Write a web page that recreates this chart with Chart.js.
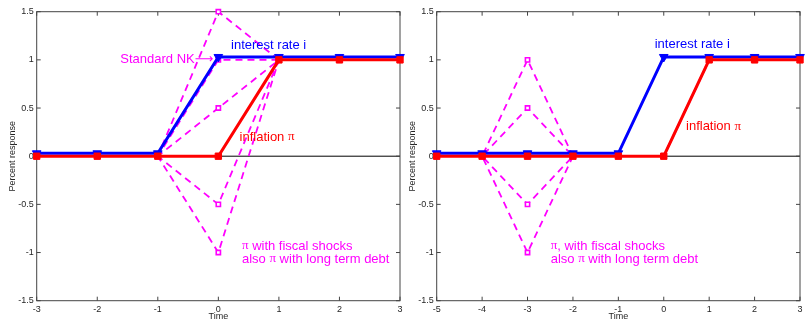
<!DOCTYPE html>
<html>
<head>
<meta charset="utf-8">
<script src="https://cdn.jsdelivr.net/npm/chart.js@4.4.0/dist/chart.umd.min.js"></script>
<style>
  html, body { margin: 0; padding: 0; background: #fff; }
  #wrap { position: relative; width: 806px; height: 321px; overflow: hidden; }
  canvas { position: absolute; top: 0; }
  #left { left: 0; }
  #right { left: 400px; }
</style>
</head>
<body>
<div id="wrap">
  <canvas id="left" width="406" height="321"></canvas>
  <canvas id="right" width="406" height="321"></canvas>
</div>
<script>
// ---- data ----
const yTicks = [-1.5, -1, -0.5, 0, 0.5, 1, 1.5];
const yTickLabels = ['-1.5', '-1', '-0.5', '0', '0.5', '1', '1.5'];

const timeLeft = [-3, -2, -1, 0, 1, 2, 3];
const timeLeftLabels = ['-3', '-2', '-1', '0', '1', '2', '3'];
const rateLeft = [0.03, 0.03, 0.03, 1.03, 1.03, 1.03, 1.03];
const inflationLeft = [0, 0, 0, 0, 1, 1, 1];
const standardNK = [0, 0, 0, 1, 1, 1, 1];
const fiscalLeftA = [0, 0, 0, 1.5, 1, 1, 1];
const fiscalLeftB = [0, 0, 0, 0.5, 1, 1, 1];
const fiscalLeftC = [0, 0, 0, -0.5, 1, 1, 1];
const fiscalLeftD = [0, 0, 0, -1, 1, 1, 1];

const timeRight = [-5, -4, -3, -2, -1, 0, 1, 2, 3];
const timeRightLabels = ['-5', '-4', '-3', '-2', '-1', '0', '1', '2', '3'];
const rateRight = [0.03, 0.03, 0.03, 0.03, 0.03, 1.03, 1.03, 1.03, 1.03];
const inflationRight = [0, 0, 0, 0, 0, 0, 1, 1, 1];
const fiscalRightA = [0, 0, 1, 0, 0, 0, 1, 1, 1];
const fiscalRightB = [0, 0, 0.5, 0, 0, 0, 1, 1, 1];
const fiscalRightC = [0, 0, -0.5, 0, 0, 0, 1, 1, 1];
const fiscalRightD = [0, 0, -1, 0, 0, 0, 1, 1, 1];

const SANS = 'Liberation Sans';
const SERIF = 'Liberation Serif';
const DEJAVU = 'DejaVu Sans';
const BLUE = '#0000ff';
const RED = '#ff0000';
const MAGENTA = '#ff00ff';
const AXIS = '#262626';

const pts = (xs, ys) => xs.map((x, i) => ({ x: x, y: ys[i] }));

// frame, inward ticks and zero line, drawn under the data
const framePlugin = {
  id: 'frame',
  beforeDatasetsDraw(chart) {
    const { ctx, chartArea: a, scales: { x, y } } = chart;
    ctx.save();
    const y0 = y.getPixelForValue(0);
    ctx.strokeStyle = '#000';
    ctx.lineWidth = 1;
    ctx.beginPath();
    ctx.moveTo(a.left, y0);
    ctx.lineTo(a.right, y0);
    ctx.stroke();

    ctx.strokeStyle = '#444';
    ctx.strokeRect(a.left, a.top, a.right - a.left, a.bottom - a.top);
    ctx.beginPath();
    x.ticks.forEach(t => {
      const px = x.getPixelForValue(t.value);
      ctx.moveTo(px, a.bottom); ctx.lineTo(px, a.bottom - 4);
      ctx.moveTo(px, a.top); ctx.lineTo(px, a.top + 4);
    });
    y.ticks.forEach(t => {
      const py = y.getPixelForValue(t.value);
      ctx.moveTo(a.left, py); ctx.lineTo(a.left + 4, py);
      ctx.moveTo(a.right, py); ctx.lineTo(a.right - 4, py);
    });
    ctx.stroke();
    ctx.restore();
  }
};

// text notes placed in data coordinates, mixing sans text with a serif pi
const notesPlugin = {
  id: 'notes',
  afterDatasetsDraw(chart, args, opts) {
    const { ctx, scales: { x, y } } = chart;
    ctx.save();
    ctx.textBaseline = 'middle';
    ctx.textAlign = 'left';
    (opts.items || []).forEach(n => {
      let px = x.getPixelForValue(n.x);
      const py = y.getPixelForValue(n.y);
      ctx.fillStyle = n.color;
      n.parts.forEach(([txt, fam]) => {
        ctx.font = '13px "' + fam + '"';
        ctx.fillText(txt, px, py);
        px += ctx.measureText(txt).width;
      });
    });
    ctx.restore();
  }
};

function fiscalSet(xs, ys) {
  return {
    data: pts(xs, ys),
    borderColor: MAGENTA,
    borderWidth: 1.8,
    borderDash: [7, 5],
    pointStyle: 'rect',
    pointRadius: 3,
    pointBorderWidth: 1.6,
    pointBorderColor: MAGENTA,
    pointBackgroundColor: '#ffffff',
    tension: 0,
    clip: false
  };
}

function makeChart(id, time, timeLabels, rate, inflation, fiscals, notes, padRight) {
  const datasets = [
    {
      data: pts(time, inflation),
      borderColor: RED,
      borderWidth: 3,
      pointStyle: 'rect',
      pointRadius: 4.5,
      pointBorderWidth: 1,
      pointBorderColor: RED,
      pointBackgroundColor: RED,
      tension: 0,
      clip: false
    },
    {
      data: pts(time, rate),
      borderColor: BLUE,
      borderWidth: 3,
      pointStyle: 'triangle',
      rotation: 180,
      pointRadius: 5,
      pointBorderWidth: 1,
      pointBorderColor: BLUE,
      pointBackgroundColor: BLUE,
      tension: 0,
      clip: false
    }
  ].concat(fiscals.map(f => fiscalSet(time, f)));

  return new Chart(document.getElementById(id), {
    type: 'line',
    data: { datasets: datasets },
    options: {
      responsive: false,
      animation: false,
      events: [],
      layout: { padding: { top: 11.7, right: padRight, left: 0, bottom: 0 } },
      plugins: {
        legend: { display: false },
        tooltip: { enabled: false },
        notes: { items: notes }
      },
      scales: {
        x: {
          type: 'linear',
          min: time[0],
          max: time[time.length - 1],
          afterBuildTicks: s => { s.ticks = time.map(v => ({ value: v })); },
          afterFit: s => { s.height = 20.3; },
          grid: { display: false, drawTicks: false },
          border: { display: false },
          ticks: {
            autoSkip: false,
            maxRotation: 0,
            padding: 3,
            color: AXIS,
            font: { family: SANS, size: 9 },
            callback: (v, i) => timeLabels[i]
          },
          title: {
            display: true,
            text: 'Time',
            color: AXIS,
            font: { family: SANS, size: 9, lineHeight: 1 },
            padding: { top: 0, bottom: 0 }
          }
        },
        y: {
          min: -1.5,
          max: 1.5,
          afterBuildTicks: s => { s.ticks = yTicks.map(v => ({ value: v })); },
          afterFit: s => { s.width = 36.7; },
          grid: { display: false, drawTicks: false },
          border: { display: false },
          ticks: {
            autoSkip: false,
            padding: 3,
            color: AXIS,
            font: { family: SANS, size: 9 },
            callback: (v, i) => yTickLabels[i]
          },
          title: {
            display: true,
            text: 'Percent response',
            color: AXIS,
            font: { family: SANS, size: 9, lineHeight: 1 },
            padding: { top: 8, bottom: 0 }
          }
        }
      }
    },
    plugins: [framePlugin, notesPlugin]
  });
}

makeChart('left', timeLeft, timeLeftLabels, rateLeft, inflationLeft,
  [standardNK, fiscalLeftA, fiscalLeftB, fiscalLeftC, fiscalLeftD],
  [
    { x: 0.21, y: 1.155, color: BLUE, parts: [['interest rate i', SANS]] },
    { x: -1.62, y: 1.0, color: MAGENTA, parts: [['Standard NK', SANS], ['\u27F6', DEJAVU]] },
    { x: 0.35, y: 0.2, color: RED, parts: [['inflation ', SANS], ['\u03C0', SERIF]] },
    { x: 0.39, y: -0.932, color: MAGENTA, parts: [['\u03C0', SERIF], [' with fiscal shocks', SANS]] },
    { x: 0.39, y: -1.067, color: MAGENTA, parts: [['also ', SANS], ['\u03C0', SERIF], [' with long term debt', SANS]] }
  ], 3.5);

makeChart('right', timeRight, timeRightLabels, rateRight, inflationRight,
  [fiscalRightA, fiscalRightB, fiscalRightC, fiscalRightD],
  [
    { x: -0.2, y: 1.162, color: BLUE, parts: [['interest rate i', SANS]] },
    { x: 0.49, y: 0.306, color: RED, parts: [['inflation ', SANS], ['\u03C0', SERIF]] },
    { x: -2.49, y: -0.932, color: MAGENTA, parts: [['\u03C0', SERIF], [', with fiscal shocks', SANS]] },
    { x: -2.49, y: -1.067, color: MAGENTA, parts: [['also ', SANS], ['\u03C0', SERIF], [' with long term debt', SANS]] }
  ], 2.7);
</script>
</body>
</html>
